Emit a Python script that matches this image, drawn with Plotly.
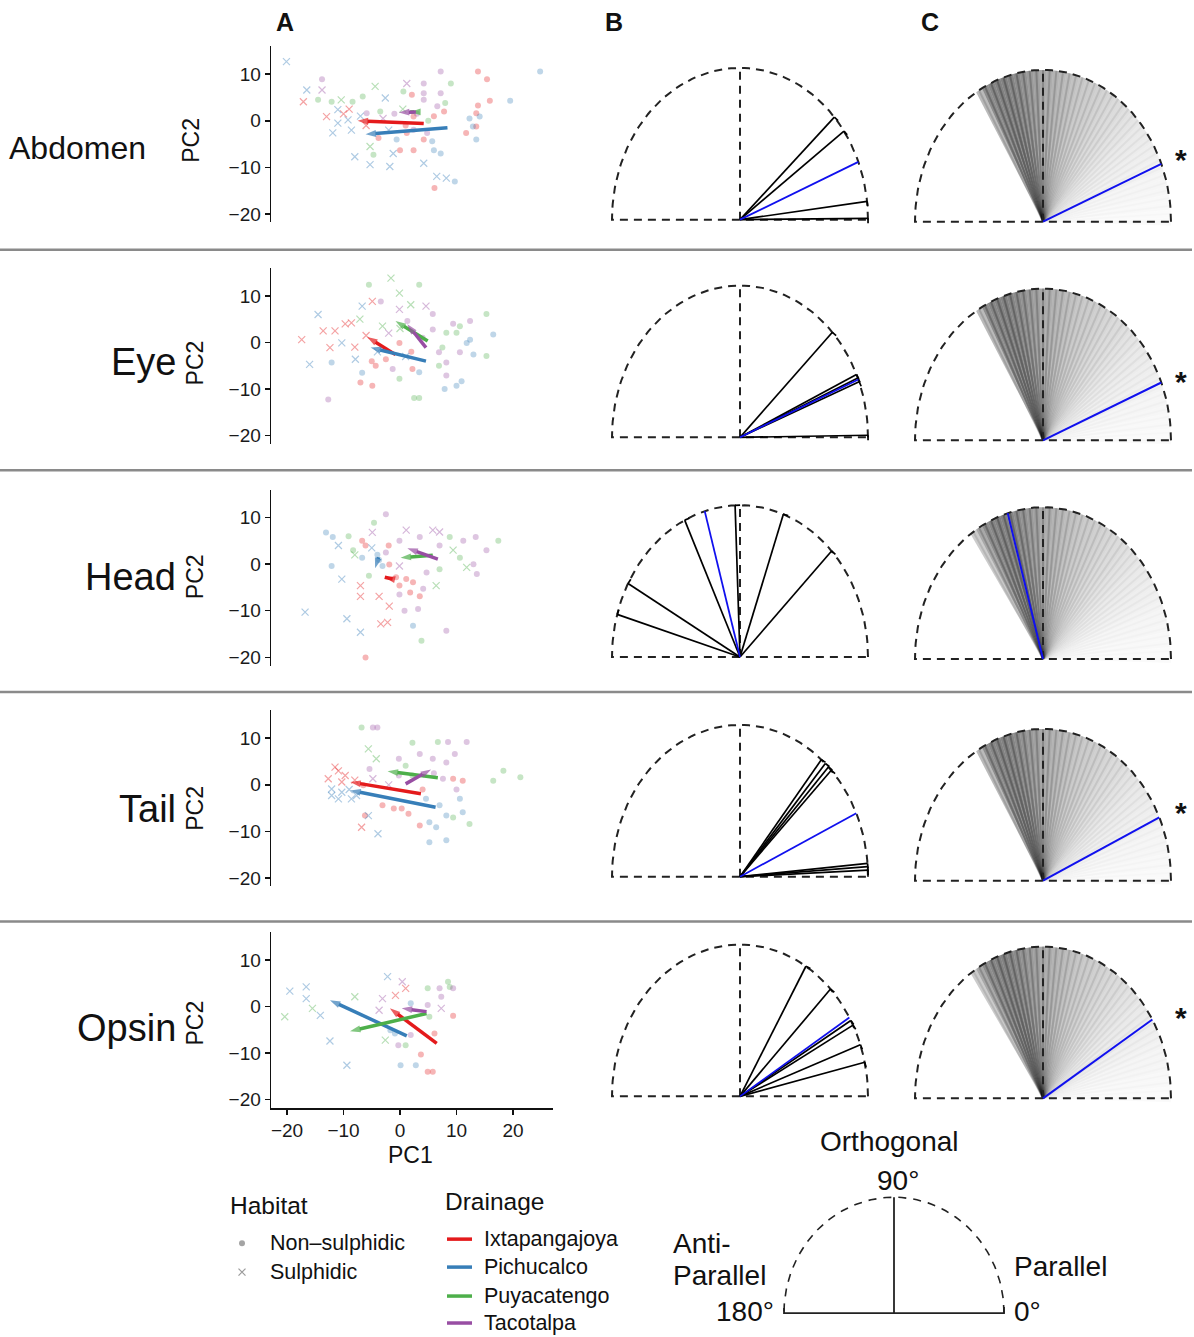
import math
import plotly.graph_objects as go

W, H = 1194, 1337
FONT = "Liberation Sans, Arial, Helvetica, sans-serif"

# ---------------- data ----------------
row_names = ["Abdomen", "Eye", "Head", "Tail", "Opsin"]
drain_names = ["Ixtapangajoya", "Pichucalco", "Puyacatengo", "Tacotalpa"]
drain_colors = ["#E41A1C", "#377EB8", "#4DAF4A", "#984EA3"]
habitat_names = ["Non\u2013sulphidic", "Sulphidic"]
pc_ticks_y = [-20, -10, 0, 10]
pc_ticks_x = [-20, -10, 0, 10, 20]

# Panel A points: (PC1, PC2, drainage index, habitat 0=non-sulphidic 1=sulphidic)
abdomen_pts = [
    (-20.1, 12.7, 1, 1), (-16.5, 6.6, 1, 1), (-17.1, 4.1, 0, 1), (-13.8, 8.9, 3, 0), (-13.8, 6.6, 3, 1),
    (-14.5, 4.5, 2, 0), (-12.1, 4.1, 2, 0), (-13.0, 0.9, 0, 1), (-10.4, 4.5, 2, 1), (-11.0, 2.4, 1, 1),
    (-8.4, 4.1, 2, 0), (-6.6, 5.2, 2, 0), (-11.0, -0.5, 1, 1), (-9.2, 0.2, 1, 1), (-8.6, -2.0, 1, 1),
    (-11.9, -2.6, 1, 1), (-5.9, 1.6, 3, 0), (-4.4, 7.4, 2, 1), (-2.6, 4.9, 1, 1), (-3.5, 2.0, 2, 0),
    (-3.8, -3.7, 0, 0), (-5.3, -5.5, 2, 1), (-4.7, -7.3, 2, 0), (-8.0, -7.7, 1, 1), (-5.3, -9.4, 1, 1),
    (-1.8, -9.8, 1, 1), (-1.2, -7.0, 1, 1), (0.0, -6.3, 0, 0), (1.2, 8.0, 3, 1), (2.1, 5.6, 0, 0),
    (4.2, 5.9, 3, 0), (0.6, 6.3, 2, 0), (4.2, 8.0, 3, 0), (4.2, 4.5, 3, 0), (7.2, 10.6, 3, 0),
    (7.2, 5.9, 3, 0), (9.0, 8.0, 2, 0), (6.6, 3.1, 3, 0), (8.0, 3.8, 2, 0), (7.8, 2.0, 0, 0),
    (2.4, 0.9, 0, 0), (1.2, -2.6, 0, 0), (-0.6, -4.0, 1, 0), (2.4, -6.3, 0, 0), (4.2, -4.0, 0, 0),
    (5.7, -4.4, 1, 0), (4.2, -9.1, 1, 1), (6.0, -6.3, 1, 0), (7.2, -7.0, 1, 0), (4.8, -2.6, 3, 0),
    (2.4, -1.9, 3, 0), (13.8, 10.6, 0, 0), (15.4, 8.9, 0, 0), (15.9, 4.3, 0, 0), (13.8, 3.3, 0, 0),
    (13.5, 1.6, 0, 0), (14.1, 0.9, 1, 0), (12.3, 0.5, 1, 0), (12.9, -1.2, 1, 0), (13.5, -1.2, 0, 0),
    (11.7, -2.6, 0, 0), (13.5, -4.0, 1, 0), (19.5, 4.3, 1, 0), (24.8, 10.6, 1, 0), (6.5, -11.9, 1, 1),
    (8.2, -12.3, 1, 1), (9.7, -13.0, 1, 0), (6.1, -14.4, 0, 0), (-7.0, 1.0, 1, 1), (-6.0, -1.0, 0, 1),
    (-3.0, 0.5, 3, 1), (-1.0, 1.5, 3, 0), (0.5, 2.5, 2, 1), (3.0, 1.5, 3, 0), (5.0, 0.0, 2, 0),
    (-2.0, -2.0, 1, 1), (1.0, -1.0, 0, 0), (6.0, 1.0, 0, 0), (-9.0, 2.5, 0, 1), (-10.0, 1.5, 0, 1),
]
eye_pts = [
    (-17.4, 0.6, 0, 1), (-16.0, -4.7, 1, 1), (-14.5, 6.0, 1, 1), (-13.6, 2.5, 0, 1), (-12.7, -12.2, 3, 0),
    (-12.1, -4.3, 1, 0), (-12.4, -1.1, 0, 1), (-11.5, 2.5, 0, 1), (-9.7, 4.0, 0, 1), (-8.6, 4.2, 0, 1),
    (-10.3, -0.1, 1, 1), (-7.9, -3.6, 1, 1), (-6.7, 7.8, 1, 1), (-5.5, 12.4, 2, 0), (-4.9, 8.8, 0, 1),
    (-3.4, 8.8, 3, 0), (-7.1, 5.0, 2, 1), (-6.7, -6.5, 1, 0), (-4.9, -9.3, 0, 0), (-7.0, -8.6, 0, 0),
    (-4.3, -5.0, 0, 0), (-2.5, -3.6, 0, 0), (-3.1, 3.5, 2, 1), (-1.6, 13.8, 2, 1), (-0.1, 10.6, 2, 1),
    (-0.1, 7.1, 3, 1), (1.3, 4.6, 3, 0), (1.9, 8.1, 2, 1), (3.4, 12.4, 2, 0), (4.6, 7.8, 3, 1),
    (-0.1, -0.1, 0, 0), (-1.3, -5.7, 3, 0), (-0.1, -7.8, 2, 0), (2.2, -5.7, 0, 0), (3.4, -6.4, 1, 0),
    (2.5, -11.9, 2, 0), (3.4, -11.9, 2, 0), (5.8, 6.1, 3, 0), (5.8, 2.8, 3, 0), (6.9, -2.1, 3, 0),
    (8.2, 2.1, 2, 0), (7.5, -1.1, 2, 0), (6.9, -5.0, 2, 0), (8.2, -4.3, 3, 0), (8.2, -7.1, 3, 0),
    (7.9, -10.0, 1, 0), (10.0, -9.3, 1, 0), (10.9, -8.3, 1, 0), (10.0, 2.1, 2, 0), (10.6, -2.1, 3, 0),
    (10.6, 3.5, 2, 0), (11.8, -0.1, 1, 0), (12.4, 0.6, 1, 0), (13.0, -2.6, 1, 0), (12.4, 4.6, 3, 0),
    (15.3, 6.1, 2, 0), (15.3, -2.9, 2, 0), (16.5, 1.7, 1, 0), (9.4, 4.0, 3, 0), (-8.0, -1.0, 0, 1),
    (-6.0, 1.5, 0, 1), (-4.0, -2.0, 1, 1), (-2.0, 2.0, 3, 1), (0.0, 3.0, 2, 1), (2.0, -2.0, 0, 0),
    (4.0, 1.0, 3, 0), (-5.0, -4.0, 0, 0), (1.0, -3.0, 1, 1),
]
head_pts = [
    (-16.8, -10.3, 1, 1), (-13.1, 6.8, 1, 0), (-11.9, 5.8, 1, 0), (-12.1, -0.4, 1, 0), (-10.3, -3.2, 1, 1),
    (-10.9, 4.0, 1, 1), (-9.4, -11.7, 1, 1), (-7.0, -14.6, 1, 1), (-6.1, -20.0, 0, 0), (-9.1, 6.0, 2, 0),
    (-8.3, 3.0, 2, 0), (-6.7, 5.0, 0, 0), (-6.1, 4.0, 0, 0), (-6.7, 1.4, 1, 0), (-4.9, 6.8, 3, 1),
    (-4.6, 8.9, 2, 0), (-2.5, 10.7, 3, 0), (-3.7, 0.9, 1, 0), (-3.1, -0.4, 1, 0), (-2.5, 2.5, 3, 0),
    (-5.5, -2.5, 2, 0), (-7.0, -4.6, 0, 1), (-7.0, -6.9, 0, 1), (-3.7, -6.9, 0, 1), (-1.9, -9.0, 0, 1),
    (-3.4, -12.8, 0, 1), (-2.2, -12.5, 0, 1), (-1.9, -0.1, 0, 0), (-0.7, -2.8, 0, 0), (-0.1, -4.6, 0, 0),
    (1.1, -3.2, 0, 0), (2.3, -3.9, 0, 0), (1.8, -6.1, 0, 0), (3.5, -6.9, 0, 0), (4.1, -5.3, 3, 0),
    (-0.1, -6.5, 3, 0), (0.8, -10.0, 3, 0), (3.2, -9.6, 3, 0), (2.3, -13.2, 1, 0), (3.8, -16.4, 2, 0),
    (8.2, -14.3, 3, 0), (-0.1, -0.4, 3, 1), (-0.1, 5.0, 3, 0), (1.1, 7.3, 3, 1), (3.5, 5.8, 3, 0),
    (5.8, 7.3, 3, 1), (7.0, 6.9, 3, 1), (7.0, 4.0, 3, 0), (8.8, 5.8, 2, 0), (9.4, 3.0, 2, 1),
    (11.2, 5.0, 3, 0), (13.4, 5.8, 3, 0), (15.3, 3.0, 3, 0), (17.4, 5.0, 2, 0), (10.6, 1.4, 2, 0),
    (11.8, -0.7, 2, 1), (13.0, 0.0, 3, 0), (13.6, -2.1, 3, 0), (7.0, -1.1, 2, 0), (6.4, -4.6, 2, 1),
    (4.7, -1.8, 3, 0), (-5.0, 3.5, 1, 1), (-4.0, 2.0, 1, 0), (-8.0, 2.0, 2, 1), (-2.0, 4.0, 0, 0),
]
tail_pts = [
    (-12.7, 1.3, 0, 1), (-12.1, -0.9, 1, 1), (-11.5, 3.8, 0, 1), (-10.9, 3.0, 0, 1), (-10.3, 0.6, 0, 1),
    (-9.7, 2.0, 0, 1), (-12.1, -2.3, 1, 1), (-10.9, -3.0, 1, 1), (-10.3, -1.6, 1, 1), (-8.6, -3.0, 1, 1),
    (-7.7, -2.3, 1, 1), (-6.8, 12.3, 2, 0), (-4.8, 12.3, 3, 0), (-4.0, 12.3, 3, 0), (-5.6, 7.7, 2, 1),
    (-4.2, 5.6, 2, 1), (-4.8, 1.3, 3, 1), (-6.5, -0.1, 0, 0), (-5.4, 3.4, 3, 0), (-3.1, -4.4, 0, 0),
    (-1.1, -5.1, 0, 0), (0.3, -5.1, 0, 0), (1.5, -6.2, 0, 0), (-6.8, -9.1, 0, 1), (-6.2, -6.6, 0, 0),
    (-3.9, -10.5, 1, 1), (-5.6, -6.6, 1, 1), (-0.2, 5.6, 3, 0), (1.0, 4.1, 2, 0), (2.2, 9.0, 2, 0),
    (3.5, 6.6, 3, 0), (5.8, 5.6, 3, 0), (6.7, 9.2, 2, 0), (8.5, 9.2, 3, 0), (8.2, 4.8, 3, 0),
    (9.7, 6.6, 3, 0), (11.8, 9.2, 3, 0), (7.6, 1.3, 3, 0), (9.4, 1.3, 0, 0), (11.1, 0.9, 0, 0),
    (10.0, -1.0, 3, 0), (10.6, -3.0, 1, 0), (7.0, -4.4, 1, 0), (5.2, -8.0, 1, 0), (6.4, -9.1, 1, 0),
    (8.2, -6.6, 1, 0), (11.1, -5.9, 1, 0), (9.4, -7.0, 2, 0), (12.3, -8.4, 2, 0), (5.2, -12.3, 1, 0),
    (8.2, -11.9, 1, 0), (4.6, -3.0, 1, 0), (3.5, -8.7, 0, 0), (16.5, 0.9, 2, 0), (18.3, 3.0, 2, 0),
    (21.3, 1.6, 2, 0), (-0.2, 2.0, 3, 0), (2.2, 2.0, 2, 0), (-8.0, 1.0, 0, 1), (-9.0, -1.0, 1, 1),
    (-2.0, 0.0, 3, 1), (4.0, -1.0, 0, 0), (6.0, 2.5, 3, 0),
]
opsin_pts = [
    (-20.4, -2.2, 2, 1), (-19.5, 3.3, 1, 1), (-16.6, 4.2, 1, 1), (-16.6, 1.7, 1, 1), (-15.5, -0.4, 2, 1),
    (-14.1, -1.9, 1, 1), (-12.4, -7.4, 1, 1), (-8.0, 2.1, 2, 1), (-9.4, -12.6, 1, 1), (-2.2, 6.4, 1, 1),
    (-3.1, 1.7, 3, 1), (-3.7, -0.8, 3, 1), (-0.8, 2.4, 0, 1), (0.4, 5.3, 3, 1), (1.0, 3.9, 0, 1),
    (1.9, 0.7, 1, 0), (-2.6, -7.2, 2, 1), (-1.7, -5.1, 1, 0), (-0.9, -5.8, 1, 0), (-0.3, -8.3, 3, 0),
    (1.0, -8.3, 2, 0), (0.1, -12.6, 1, 0), (2.8, -12.6, 1, 0), (3.7, -10.3, 0, 0), (4.9, -14.0, 0, 0),
    (5.8, -14.0, 0, 0), (6.1, -5.8, 0, 0), (1.9, -6.1, 3, 0), (4.9, 3.9, 2, 0), (5.2, -2.2, 2, 0),
    (7.0, 3.9, 3, 0), (7.3, 2.1, 3, 0), (7.3, -0.4, 3, 1), (8.5, 5.3, 2, 0), (8.8, 4.2, 2, 0),
    (9.4, 3.9, 3, 0), (9.4, -2.0, 0, 0), (4.9, 0.3, 3, 0),
]
pts_by_row = [abdomen_pts, eye_pts, head_pts, tail_pts, opsin_pts]

# Panel A arrows (start PC1, start PC2, end PC1, end PC2) per drainage
abdomen_arrows = [(4.2, -0.6, -7.5, 0.0), (8.4, -1.5, -6.1, -2.9), (2.5, 1.9, 1.8, 1.9), (2.8, 1.9, -0.2, 1.8)]
eye_arrows = [(-0.8, -2.6, -5.8, 1.2), (4.6, -4.0, -5.2, -1.1), (4.9, 0.3, -0.8, 4.6), (4.6, -1.1, 1.3, 3.9)]
head_arrows = [(-1.3, -3.2, -2.7, -2.8), (-3.8, 1.5, -4.4, -0.9), (5.8, 1.9, 0.1, 1.4), (6.7, 1.1, 1.3, 3.4)]
tail_arrows = [(3.7, -1.9, -8.8, 0.6), (6.3, -4.8, -8.8, -1.2), (6.7, 1.5, -2.2, 2.9), (1.0, 0.2, 5.5, 3.3)]
opsin_arrows = [(6.5, -7.9, -1.8, -0.4), (1.2, -6.3, -12.4, 1.35), (4.7, -1.5, -8.85, -5.3), (4.7, -1.1, 0.3, -0.4)]
arrows_by_row = [abdomen_arrows, eye_arrows, head_arrows, tail_arrows, opsin_arrows]

# Panel B: angles (degrees) between drainage vectors; blue = mean
b_black_angles = [
    [42.5, 35.7, 6.9, 0.5],
    [43.8, 24.5, 23.0, 21.5, 0.8],
    [163.7, 151.0, 115.6, 92.2, 70.2, 44.3],
    [50.5, 48.2, 46.3, 44.5, 5.0, 3.8, 2.5],
    [59.0, 45.0, 30.0, 28.0, 19.9, 13.0],
]
b_blue_angle = [22.4, 22.4, 106.0, 24.7, 31.3]

# Panel C: null distribution of angles (binned), opacity per bin
fan_angles = [0, 3, 6, 9, 12, 15, 18, 21, 24, 27, 30, 33, 36, 39, 42, 45, 48, 51, 54, 57, 60,
              63, 66, 69, 72, 75, 78, 81, 84, 87, 90, 93, 96, 99, 102, 105, 108, 111, 114, 117,
              120, 123, 126, 129, 132]
fan_alpha_abdomen = [.03, .03, .04, .04, .05, .06, .06, .07, .08, .09, .10, .11, .12, .13, .15, .16, .18,
                     .20, .21, .23, .25, .27, .29, .30, .32, .35, .38, .41, .44, .47, .50, .55, .58, .63,
                     .67, .70, .72, .72, .70, .66, .40, 0, 0, 0, 0]
fan_alpha_eye = [.03, .03, .04, .04, .05, .06, .06, .07, .08, .09, .10, .11, .12, .13, .15, .16, .18,
                 .20, .21, .23, .25, .27, .29, .30, .32, .35, .38, .41, .44, .47, .50, .55, .58, .63,
                 .67, .70, .72, .72, .70, .66, .40, 0, 0, 0, 0]
fan_alpha_head = [.03, .03, .04, .04, .05, .06, .06, .07, .08, .09, .10, .11, .12, .13, .15, .16, .18,
                  .20, .21, .23, .25, .27, .29, .30, .32, .35, .38, .41, .44, .47, .50, .55, .58, .63,
                  .67, .70, .72, .72, .70, .66, .50, .30, 0, 0, 0]
fan_alpha_tail = [.03, .03, .04, .04, .05, .06, .06, .07, .08, .09, .10, .11, .12, .13, .15, .16, .18,
                  .20, .21, .23, .25, .27, .29, .30, .32, .35, .38, .41, .44, .47, .50, .55, .58, .63,
                  .67, .70, .72, .72, .70, .66, .40, 0, 0, 0, 0]
fan_alpha_opsin = [.03, .03, .04, .04, .05, .06, .06, .07, .08, .09, .10, .11, .12, .13, .15, .16, .18,
                   .20, .21, .23, .25, .27, .29, .30, .32, .35, .38, .41, .44, .47, .50, .55, .58, .63,
                   .67, .70, .72, .72, .70, .66, .50, .30, 0, 0, 0]
fan_alpha_by_row = [fan_alpha_abdomen, fan_alpha_eye, fan_alpha_head, fan_alpha_tail, fan_alpha_opsin]
c_significant = [True, True, False, True, True]

# ---------------- layout geometry ----------------
def fx(px):
    return px / W


def fy(py):
    return 1 - py / H


def rgba(hexc, a):
    h = hexc.lstrip("#")
    return f"rgba({int(h[0:2], 16)},{int(h[2:4], 16)},{int(h[4:6], 16)},{a})"


A_X0, A_XS = 400.0, 5.65
A_YS = 4.67
A_zero = [121, 343, 565, 786, 1008]
A_left, A_right = 271, 553
A_ymin, A_ymax = -21.8, 16.0
B_cx, C_cx = 740, 1043
B_base = [220, 438, 658, 878, 1098]
C_base = [222, 441, 660, 882, 1100]
HR, VR = 128.0, 152.0

fig = go.Figure()
layout = dict(width=W, height=H, margin=dict(l=0, r=0, t=0, b=0), autosize=False,
              paper_bgcolor="white", plot_bgcolor="rgba(0,0,0,0)", showlegend=False,
              font=dict(family=FONT, color="#1a1a1a"))
annotations = []


def ax_names(idx):
    s = "" if idx == 1 else str(idx)
    return "xaxis" + s, "yaxis" + s, "x" + s, "y" + s


hidden = dict(visible=False, showgrid=False, zeroline=False, fixedrange=True)

# ---- panel A ----
for k in range(5):
    idx = k + 1
    xa, ya, xr, yr = ax_names(idx)
    y0 = A_zero[k]
    ydom = [fy(y0 - A_ymin * A_YS), fy(y0 - A_ymax * A_YS)]
    xdom = [fx(A_left), fx(A_right)]
    xrange = [(A_left - A_X0) / A_XS, (A_right - A_X0) / A_XS]
    axis_style = dict(showline=True, linecolor="#111", linewidth=1.4, ticks="outside", ticklen=5,
                      tickwidth=1.4, tickcolor="#111", showgrid=False, zeroline=False,
                      tickfont=dict(size=19, family=FONT, color="#1a1a1a"), fixedrange=True)
    layout[ya] = dict(domain=ydom, range=[A_ymin, A_ymax], anchor=xr, tickvals=pc_ticks_y,
                      tickmode="array", **axis_style)
    if k == 4:
        layout[xa] = dict(domain=xdom, range=xrange, anchor=yr, tickvals=pc_ticks_x,
                          tickmode="array", **axis_style)
    else:
        layout[xa] = dict(domain=xdom, range=xrange, anchor=yr, **hidden)

    pts = pts_by_row[k]
    for d in range(4):
        for h in range(2):
            sel = [p for p in pts if p[2] == d and p[3] == h]
            if not sel:
                continue
            col = drain_colors[d]
            if h == 0:
                mk = dict(symbol="circle", size=6, color=rgba(col, 0.32), line=dict(width=0))
            else:
                mk = dict(symbol="x-thin", size=7, color=rgba(col, 0.4),
                          line=dict(width=1.2, color=rgba(col, 0.4)))
            fig.add_trace(go.Scatter(x=[p[0] for p in sel], y=[p[1] for p in sel], mode="markers",
                                     marker=mk, xaxis=xr, yaxis=yr, hoverinfo="skip"))
    for d in range(4):
        x0, y0a, x1, y1 = arrows_by_row[k][d]
        col = drain_colors[d]
        fig.add_trace(go.Scatter(x=[x0, x1], y=[y0a, y1], mode="lines+markers",
                                 line=dict(color=col, width=3.5),
                                 marker=dict(symbol=["circle", "arrow"], size=[0, 11], color=col,
                                             angleref="previous", line=dict(width=0)),
                                 xaxis=xr, yaxis=yr, hoverinfo="skip"))

    # row label and PC2
    label_right = 148 if k == 0 else 178
    label_y = [148, 363, 578, 810, 1030][k]
    annotations.append(dict(text=row_names[k], x=fx(label_right), y=fy(label_y), xref="paper",
                            yref="paper", xanchor="right", yanchor="middle", showarrow=False,
                            font=dict(size=32 if k == 0 else 38, family=FONT, color="#111")))
    annotations.append(dict(text="PC2", x=fx(195 if k else 191), y=fy([141, 364, 578, 810, 1025][k]),
                            xref="paper", yref="paper", xanchor="center", yanchor="middle",
                            textangle=-90, showarrow=False,
                            font=dict(size=23, family=FONT, color="#111")))

annotations.append(dict(text="PC1", x=fx(410), y=fy(1157), xref="paper", yref="paper",
                        xanchor="center", yanchor="middle", showarrow=False,
                        font=dict(size=23, family=FONT, color="#111")))

# ---- semicircle helpers ----
arc_t = list(range(0, 181, 2))


def outline_traces(xr, yr):
    xs = [math.cos(math.radians(t)) for t in arc_t] + [1.0]
    ys = [math.sin(math.radians(t)) for t in arc_t] + [0.0]
    out = [go.Scatter(x=xs, y=ys, mode="lines", line=dict(color="#222", width=2, dash="8px,6px"),
                      xaxis=xr, yaxis=yr, hoverinfo="skip"),
           go.Scatter(x=[0, 0], y=[0, 1], mode="lines", line=dict(color="#222", width=2, dash="8px,6px"),
                      xaxis=xr, yaxis=yr, hoverinfo="skip")]
    return out


def cap_segment(theta_deg, length_px=5.0):
    t = math.radians(theta_deg)
    ex, ey = math.cos(t), math.sin(t)
    vx, vy = ex * HR, ey * VR
    n = math.hypot(vx, vy)
    ux, uy = vx / n, vy / n
    return [ex, ex + length_px * uy / HR], [ey, ey - length_px * ux / VR]


def semi_axes(idx, cx, base):
    xa, ya, xr, yr = ax_names(idx)
    layout[xa] = dict(domain=[fx(cx - 150), fx(cx + 150)], range=[-150 / HR, 150 / HR], anchor=yr, **hidden)
    layout[ya] = dict(domain=[fy(base + 12), fy(base - 168)], range=[-12 / VR, 168 / VR], anchor=xr, **hidden)
    return xr, yr


# ---- panel B ----
for k in range(5):
    xr, yr = semi_axes(6 + k, B_cx, B_base[k])
    for tr in outline_traces(xr, yr):
        fig.add_trace(tr)
    for a in b_black_angles[k]:
        t = math.radians(a)
        fig.add_trace(go.Scatter(x=[0, math.cos(t)], y=[0, math.sin(t)], mode="lines",
                                 line=dict(color="black", width=1.7), xaxis=xr, yaxis=yr, hoverinfo="skip"))
        cx_, cy_ = cap_segment(a)
        fig.add_trace(go.Scatter(x=cx_, y=cy_, mode="lines", line=dict(color="black", width=1.7),
                                 xaxis=xr, yaxis=yr, hoverinfo="skip"))
    t = math.radians(b_blue_angle[k])
    fig.add_trace(go.Scatter(x=[0, math.cos(t)], y=[0, math.sin(t)], mode="lines",
                             line=dict(color="#1010EE", width=1.8), xaxis=xr, yaxis=yr, hoverinfo="skip"))

# ---- panel C ----
for k in range(5):
    xr, yr = semi_axes(11 + k, C_cx, C_base[k])
    alphas = fan_alpha_by_row[k]
    for a, al in zip(fan_angles, alphas):
        if al <= 0:
            continue
        t1, t2 = a - 1.5, a + 1.5
        steps = [t1, t1 + 0.75, a, a + 0.75, t2]
        xs = [0.0] + [math.cos(math.radians(s)) for s in steps] + [0.0]
        ys = [0.0] + [math.sin(math.radians(s)) for s in steps] + [0.0]
        fig.add_trace(go.Scatter(x=xs, y=ys, mode="lines", fill="toself",
                                 fillcolor=f"rgba(0,0,0,{al * 0.68:.3f})",
                                 line=dict(color="rgba(0,0,0,0)", width=0),
                                 xaxis=xr, yaxis=yr, hoverinfo="skip"))
    # radial lines give the darker converging centre and fine streaks
    for a, al in zip(fan_angles, alphas):
        if al <= 0:
            continue
        t = math.radians(a)
        fig.add_trace(go.Scatter(x=[0, math.cos(t)], y=[0, math.sin(t)], mode="lines",
                                 line=dict(color=f"rgba(0,0,0,{min(1, al * 0.35):.3f})", width=2),
                                 xaxis=xr, yaxis=yr, hoverinfo="skip"))
    for tr in outline_traces(xr, yr):
        fig.add_trace(tr)
    t = math.radians(b_blue_angle[k])
    fig.add_trace(go.Scatter(x=[0, math.cos(t)], y=[0, math.sin(t)], mode="lines",
                             line=dict(color="#1010EE", width=2), xaxis=xr, yaxis=yr, hoverinfo="skip"))
    if c_significant[k]:
        annotations.append(dict(text="<b>*</b>", x=fx(1181), y=fy([160, 382, 0, 814, 1019][k]), xref="paper",
                                yref="paper", xanchor="center", yanchor="middle", showarrow=False,
                                font=dict(size=30, family=FONT, color="#111")))

# ---- separators ----
shapes = []
for sy in [250, 471, 693, 923]:
    shapes.append(dict(type="line", xref="paper", yref="paper", x0=0, x1=fx(1192), y0=fy(sy), y1=fy(sy),
                       line=dict(color="#8a8a8a", width=2.5)))

# panel letters
for txt, px in [("A", 285), ("B", 614), ("C", 930)]:
    annotations.append(dict(text=f"<b>{txt}</b>", x=fx(px), y=fy(22), xref="paper", yref="paper",
                            xanchor="center", yanchor="middle", showarrow=False,
                            font=dict(size=25, family=FONT, color="#111")))

# ---- helper axis for legend & guide (pixel coordinates) ----
xa, ya, xr, yr = ax_names(16)
layout[xa] = dict(domain=[0, 1], range=[0, W], anchor=yr, **hidden)
layout[ya] = dict(domain=[0, 1], range=[H, 0], anchor=xr, **hidden)

# Habitat legend
fig.add_trace(go.Scatter(x=[242], y=[1245], mode="markers", xaxis=xr, yaxis=yr, hoverinfo="skip",
                         marker=dict(symbol="circle", size=6, color="rgba(90,90,90,0.55)")))
fig.add_trace(go.Scatter(x=[242], y=[1274], mode="markers", xaxis=xr, yaxis=yr, hoverinfo="skip",
                         marker=dict(symbol="x-thin", size=7, line=dict(width=1.2, color="rgba(90,90,90,0.6)"))))
annotations.append(dict(text="Habitat", x=fx(228), y=fy(1207), xref="paper", yref="paper", xanchor="left",
                        yanchor="middle", showarrow=False, font=dict(size=24.5, family=FONT, color="#111")))
for i, name in enumerate(habitat_names):
    annotations.append(dict(text=name, x=fx(268), y=fy([1245, 1274][i]), xref="paper", yref="paper",
                            xanchor="left", yanchor="middle", showarrow=False,
                            font=dict(size=21.5, family=FONT, color="#111")))
# Drainage legend
annotations.append(dict(text="Drainage", x=fx(443), y=fy(1203), xref="paper", yref="paper", xanchor="left",
                        yanchor="middle", showarrow=False, font=dict(size=24.5, family=FONT, color="#111")))
for i, name in enumerate(drain_names):
    ly = [1241, 1269, 1298, 1325][i]
    fig.add_trace(go.Scatter(x=[447, 472], y=[ly, ly], mode="lines", xaxis=xr, yaxis=yr, hoverinfo="skip",
                             line=dict(color=drain_colors[i], width=3.5)))
    annotations.append(dict(text=name, x=fx(482), y=fy(ly), xref="paper", yref="paper", xanchor="left",
                            yanchor="middle", showarrow=False, font=dict(size=21.5, family=FONT, color="#111")))

# Guide semicircle
g_cx, g_cy, g_hr, g_vr = 894, 1315, 110, 116
fig.add_trace(go.Scatter(x=[g_cx + g_hr * math.cos(math.radians(t)) for t in arc_t],
                         y=[g_cy - g_vr * math.sin(math.radians(t)) for t in arc_t], mode="lines",
                         line=dict(color="#222", width=1.6, dash="8px,7px"), xaxis=xr, yaxis=yr,
                         hoverinfo="skip"))
fig.add_trace(go.Scatter(x=[g_cx - g_hr, g_cx - g_hr, g_cx + g_hr, g_cx + g_hr],
                         y=[g_cy - 5, g_cy, g_cy, g_cy - 6], mode="lines",
                         line=dict(color="#222", width=1.8), xaxis=xr, yaxis=yr, hoverinfo="skip"))
fig.add_trace(go.Scatter(x=[g_cx, g_cx], y=[g_cy, g_cy - g_vr], mode="lines",
                         line=dict(color="#222", width=1.8), xaxis=xr, yaxis=yr, hoverinfo="skip"))
guide_texts = [("Orthogonal", 889, 1143, "center"), ("90\u00b0", 898, 1182, "center"),
               ("Anti-", 671, 1245, "left"), ("Parallel", 671, 1277, "left"),
               ("180\u00b0", 776, 1313, "right"), ("Parallel", 1012, 1268, "left"),
               ("0\u00b0", 1012, 1313, "left")]
for txt, px, py, anc in guide_texts:
    annotations.append(dict(text=txt, x=fx(px), y=fy(py), xref="paper", yref="paper", xanchor=anc,
                            yanchor="middle", showarrow=False, font=dict(size=28, family=FONT, color="#111")))

layout["annotations"] = annotations
layout["shapes"] = shapes
fig.update_layout(**layout)
fig.write_html("out.html", config={"displayModeBar": False, "staticPlot": True},
               post_script="document.body.style.margin='0';document.body.style.overflow='hidden';")
